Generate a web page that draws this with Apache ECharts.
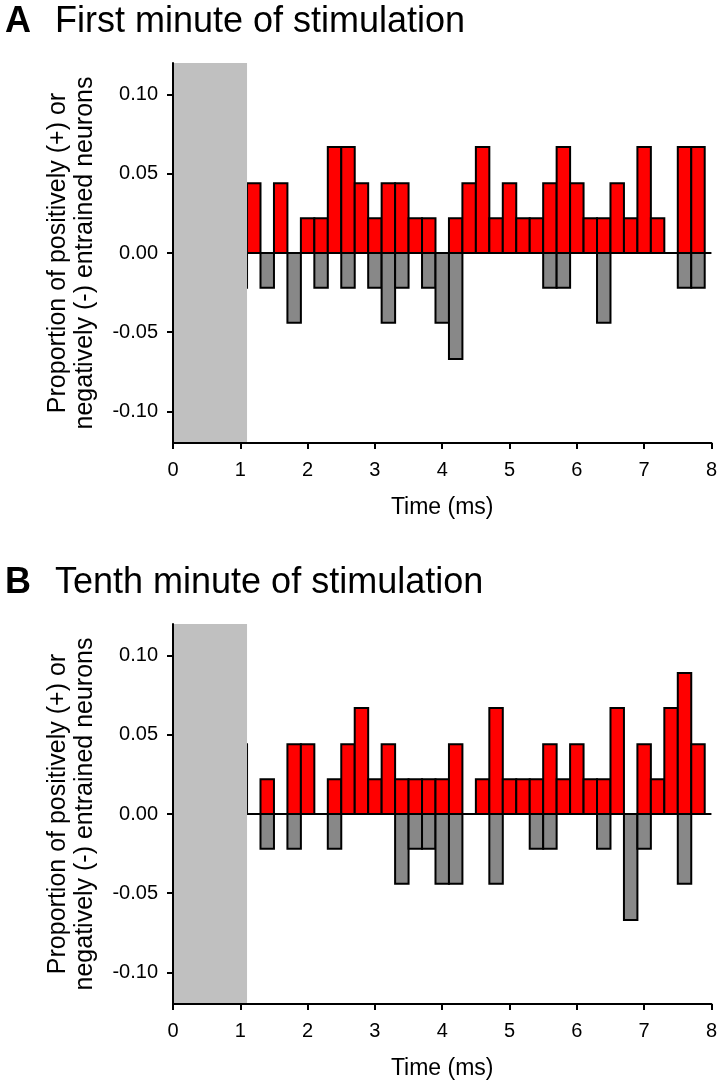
<!DOCTYPE html>
<html>
<head>
<meta charset="utf-8">
<script src="https://cdn.jsdelivr.net/npm/echarts@6/dist/echarts.min.js"></script>
<style>
  html, body { margin: 0; padding: 0; background: #ffffff; }
  #chart { width: 720px; height: 1084px; }
</style>
</head>
<body>
<div id="chart"></div>
<script>
// ---- data ----
var binCenters = [1.0, 1.2, 1.4, 1.6, 1.8, 2.0, 2.2, 2.4, 2.6, 2.8, 3.0, 3.2, 3.4, 3.6, 3.8, 4.0, 4.2, 4.4,
                  4.6, 4.8, 5.0, 5.2, 5.4, 5.6, 5.8, 6.0, 6.2, 6.4, 6.6, 6.8, 7.0, 7.2, 7.4, 7.6, 7.8];
var binWidth = 0.2;
var shadeRange = [0, 1.1];       // stimulus window (ms)
var xTicks = [0, 1, 2, 3, 4, 5, 6, 7, 8];
var yTicks = [-0.10, -0.05, 0.00, 0.05, 0.10];
var yRange = [-0.12, 0.12];

var posA = [0, 0.044, 0, 0.044, 0, 0.022, 0.022, 0.067, 0.067, 0.044, 0.022, 0.044, 0.044, 0.022, 0.022, 0, 0.022,
            0.044, 0.067, 0.022, 0.044, 0.022, 0.022, 0.044, 0.067, 0.044, 0.022, 0.022, 0.044, 0.022, 0.067, 0.022,
            0, 0.067, 0.067];
var negA = [-0.022, 0, -0.022, 0, -0.044, 0, -0.022, 0, -0.022, 0, -0.022, -0.044, -0.022, 0, -0.022, -0.044, -0.067,
            0, 0, 0, 0, 0, 0, -0.022, -0.022, 0, 0, -0.044, 0, 0, 0, 0, 0, -0.022, -0.022];
var posB = [0.044, 0, 0.022, 0, 0.044, 0.044, 0, 0.022, 0.044, 0.067, 0.022, 0.044, 0.022, 0.022, 0.022, 0.022, 0.044,
            0, 0.022, 0.067, 0.022, 0.022, 0.022, 0.044, 0.022, 0.044, 0.022, 0.022, 0.067, 0, 0.044, 0.022,
            0.067, 0.089, 0.044];
var negB = [0, 0, -0.022, 0, -0.022, 0, 0, -0.022, 0, 0, 0, 0, -0.044, -0.022, -0.022, -0.044, -0.044,
            0, 0, -0.044, 0, 0, -0.022, -0.022, 0, 0, 0, -0.022, 0, -0.067, -0.022, 0, 0, -0.044, 0];

var titles = [['A', 'First minute of stimulation'], ['B', 'Tenth minute of stimulation']];
var xName = 'Time (ms)';
var yName = 'Proportion of positively (+) or\nnegatively (-) entrained neurons';

// ---- helpers ----
var FONT = "'Liberation Sans', Arial, Helvetica, sans-serif";
function pairs(vals) {
  var out = [];
  for (var i = 0; i < binCenters.length; i++) if (vals[i] !== 0) out.push([binCenters[i], vals[i]]);
  return out;
}
function barRender(color) {
  return function (params, api) {
    var x = api.value(0), v = api.value(1);
    var p0 = api.coord([x - binWidth / 2, v]);
    var p1 = api.coord([x + binWidth / 2, 0]);
    return {
      type: 'rect',
      shape: { x: p0[0], y: Math.min(p0[1], p1[1]), width: p1[0] - p0[0], height: Math.abs(p1[1] - p0[1]) },
      style: { fill: color, stroke: '#000000', lineWidth: 2 }
    };
  };
}
function shadeRender(params, api) {
  var p0 = api.coord([api.value(0), yRange[1]]);
  var p1 = api.coord([api.value(1), yRange[0]]);
  return { type: 'rect', shape: { x: p0[0], y: p0[1], width: p1[0] - p0[0], height: p1[1] - p0[1] },
           style: { fill: '#c0c0c0' } };
}
function zeroRender(params, api) {
  var p0 = api.coord([api.value(0), 0]);
  var p1 = api.coord([api.value(1), 0]);
  return { type: 'line', shape: { x1: p0[0], y1: p0[1], x2: p1[0], y2: p1[1] },
           style: { stroke: '#000000', lineWidth: 2 } };
}

var gridTops = [63, 624];
var panels = [[posA, negA], [posB, negB]];
var option = { animation: false, backgroundColor: '#ffffff', textStyle: { fontFamily: FONT },
  title: [], grid: [], xAxis: [], yAxis: [], series: [] };

for (var g = 0; g < 2; g++) {
  option.title.push({ text: titles[g][0], left: 0, top: gridTops[g] - 64,
    textStyle: { fontFamily: FONT, fontSize: 36, fontWeight: 'bold', color: '#000' } });
  option.title.push({ text: titles[g][1], left: 50, top: gridTops[g] - 64,
    textStyle: { fontFamily: FONT, fontSize: 36, fontWeight: 'normal', color: '#000' } });
  option.grid.push({ left: 173, right: 6, top: gridTops[g], height: 380 });
  option.xAxis.push({ type: 'value', gridIndex: g, min: xTicks[0], max: xTicks[xTicks.length - 1], interval: 1,
    z: 10,
    name: xName, nameLocation: 'middle', nameGap: 53,
    nameTextStyle: { fontFamily: FONT, fontSize: 23, color: '#000' },
    axisLine: { show: true, onZero: false, lineStyle: { color: '#000', width: 2 } },
    axisTick: { show: true, length: 6, lineStyle: { color: '#000', width: 2 } },
    axisLabel: { fontFamily: FONT, fontSize: 20, color: '#000', margin: 17 },
    splitLine: { show: false } });
  option.yAxis.push({ type: 'value', gridIndex: g, min: yRange[0], max: yRange[1], z: 10,
    name: yName, nameLocation: 'middle', nameRotate: 90, nameGap: 74,
    nameTextStyle: { fontFamily: FONT, fontSize: 25, color: '#000', lineHeight: 27, align: 'center' },
    axisLine: { show: true, onZero: false, lineStyle: { color: '#000', width: 2 } },
    axisTick: { show: true, length: 6, customValues: yTicks, lineStyle: { color: '#000', width: 2 } },
    axisLabel: { fontFamily: FONT, fontSize: 20, color: '#000', margin: 15, customValues: yTicks,
      formatter: function (v) { return v.toFixed(2); } },
    splitLine: { show: false } });
  option.series.push({ type: 'custom', xAxisIndex: g, yAxisIndex: g, z: 2, silent: true,
    renderItem: barRender('#ff0000'), data: pairs(panels[g][0]), clip: true });
  option.series.push({ type: 'custom', xAxisIndex: g, yAxisIndex: g, z: 2, silent: true,
    renderItem: barRender('#888888'), data: pairs(panels[g][1]), clip: true });
  option.series.push({ type: 'custom', xAxisIndex: g, yAxisIndex: g, z: 3, silent: true,
    renderItem: zeroRender, data: [[shadeRange[1], xTicks[xTicks.length - 1]]] });
  option.series.push({ type: 'custom', xAxisIndex: g, yAxisIndex: g, z: 4, silent: true,
    renderItem: shadeRender, data: [shadeRange] });
}

var chart = echarts.init(document.getElementById('chart'), null, { renderer: 'canvas' });
chart.setOption(option);
</script>
</body>
</html>
